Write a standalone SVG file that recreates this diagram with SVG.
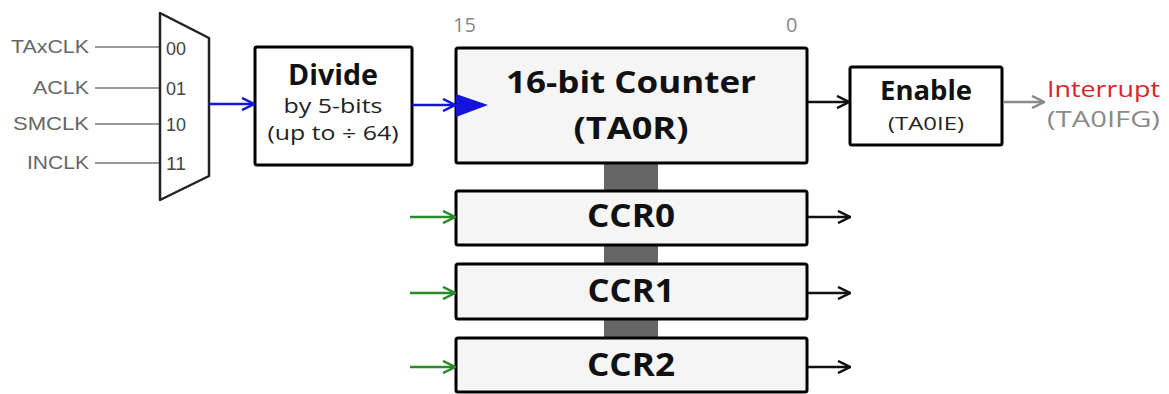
<svg xmlns="http://www.w3.org/2000/svg" width="1169" height="394" viewBox="0 0 1169 394">
  <style>
    .box { stroke: #000; stroke-width: 3; }
    .plain { fill: #fff; }
    .reg { fill: #f5f5f5; }
    .t-bold { font-family: "Open Sans", "DejaVu Sans", sans-serif; font-weight: bold; fill: #111; text-anchor: middle; }
    .t-reg { font-family: "Open Sans", "DejaVu Sans", sans-serif; fill: #222; text-anchor: middle; }
    .t-clk { font-family: "Liberation Sans", Arial, sans-serif; font-size: 18px; fill: #666; text-anchor: end; }
    .t-sel { font-family: "Liberation Sans", Arial, sans-serif; font-size: 18px; fill: #444; }
    .t-bit { font-family: "Open Sans", "DejaVu Sans", sans-serif; font-size: 20px; fill: #888; }
    .wire { fill: none; stroke-width: 2.5; }
  </style>
  <defs>
    <marker id="ah-blue" viewBox="0 0 14 14" refX="13" refY="7" markerWidth="14" markerHeight="14" markerUnits="userSpaceOnUse" orient="auto">
      <path d="M1,1 L13,7 L1,13" fill="none" stroke="#1414dc" stroke-width="2.5"/>
    </marker>
    <marker id="ah-black" viewBox="0 0 14 14" refX="13" refY="7" markerWidth="14" markerHeight="14" markerUnits="userSpaceOnUse" orient="auto">
      <path d="M1,1 L13,7 L1,13" fill="none" stroke="#111" stroke-width="2.5"/>
    </marker>
    <marker id="ah-green" viewBox="0 0 14 14" refX="13" refY="7" markerWidth="14" markerHeight="14" markerUnits="userSpaceOnUse" orient="auto">
      <path d="M1,1 L13,7 L1,13" fill="none" stroke="#2a8a2a" stroke-width="2.5"/>
    </marker>
    <marker id="ah-gray" viewBox="0 0 14 14" refX="13" refY="7" markerWidth="14" markerHeight="14" markerUnits="userSpaceOnUse" orient="auto">
      <path d="M1,1 L13,7 L1,13" fill="none" stroke="#8a8a8a" stroke-width="2.5"/>
    </marker>
  </defs>

  <rect width="1169" height="394" fill="#fff"/>

  <!-- shared data bus between counter and capture/compare registers -->
  <rect id="bus" x="604" y="160" width="54" height="180" fill="#666"/>

  <!-- clock source selector -->
  <g id="clock-mux">
    <g stroke="#777" stroke-width="1.5">
      <line x1="95" y1="47" x2="160" y2="47"/>
      <line x1="95" y1="88" x2="160" y2="88"/>
      <line x1="95" y1="124" x2="160" y2="124"/>
      <line x1="95" y1="163" x2="160" y2="163"/>
    </g>
    <text class="t-clk" x="89" y="53" textLength="78" lengthAdjust="spacingAndGlyphs">TAxCLK</text>
    <text class="t-clk" x="89" y="94" textLength="56" lengthAdjust="spacingAndGlyphs">ACLK</text>
    <text class="t-clk" x="89" y="130" textLength="76" lengthAdjust="spacingAndGlyphs">SMCLK</text>
    <text class="t-clk" x="89" y="169" textLength="62" lengthAdjust="spacingAndGlyphs">INCLK</text>
    <polygon points="160,13 209,38 209,176 160,200" fill="#fff" stroke="#222" stroke-width="2.5" stroke-linejoin="round"/>
    <text class="t-sel" x="166" y="55" textLength="20" lengthAdjust="spacingAndGlyphs">00</text>
    <text class="t-sel" x="166" y="95" textLength="20" lengthAdjust="spacingAndGlyphs">01</text>
    <text class="t-sel" x="166" y="131" textLength="20" lengthAdjust="spacingAndGlyphs">10</text>
    <text class="t-sel" x="166" y="170" textLength="20" lengthAdjust="spacingAndGlyphs">11</text>
  </g>

  <!-- input divider -->
  <g id="divider">
    <rect class="box plain" x="255" y="47" width="157" height="118" rx="2"/>
    <text class="t-bold" x="333" y="85" font-size="28" textLength="90" lengthAdjust="spacingAndGlyphs">Divide</text>
    <text class="t-reg" x="333" y="113" font-size="20" textLength="99" lengthAdjust="spacingAndGlyphs">by 5-bits</text>
    <text class="t-reg" x="333" y="140" font-size="20" textLength="131" lengthAdjust="spacingAndGlyphs">(up to ÷ 64)</text>
  </g>

  <!-- 16-bit timer counter -->
  <g id="counter">
    <text class="t-bit" x="453" y="32">15</text>
    <text class="t-bit" x="786" y="32">0</text>
    <rect class="box reg" x="456" y="48" width="351" height="115" rx="2"/>
    <polygon points="456,94 488,105 456,117" fill="#1414dc"/>
    <text class="t-bold" x="631" y="93" font-size="31" textLength="250" lengthAdjust="spacingAndGlyphs">16-bit Counter</text>
    <text class="t-bold" x="631" y="139" font-size="31" textLength="115" lengthAdjust="spacingAndGlyphs">(TA0R)</text>
  </g>

  <!-- interrupt enable gate -->
  <g id="enable">
    <rect class="box plain" x="850" y="67" width="152" height="78" rx="2"/>
    <text class="t-bold" x="926" y="100" font-size="26" textLength="92" lengthAdjust="spacingAndGlyphs">Enable</text>
    <text class="t-reg" x="926" y="130" font-size="19" textLength="76" lengthAdjust="spacingAndGlyphs">(TA0IE)</text>
  </g>

  <!-- interrupt flag output -->
  <g id="interrupt">
    <text x="1047" y="97" font-family="'Open Sans', 'DejaVu Sans', sans-serif" font-size="21" fill="#d9232a" textLength="113" lengthAdjust="spacingAndGlyphs">Interrupt</text>
    <text x="1047" y="127" font-family="'Open Sans', 'DejaVu Sans', sans-serif" font-size="21" fill="#8a8a8a" textLength="113" lengthAdjust="spacingAndGlyphs">(TA0IFG)</text>
  </g>

  <!-- capture/compare registers -->
  <g id="ccr0">
    <rect class="box reg" x="456" y="191" width="351" height="54" rx="2"/>
    <text class="t-bold" x="631" y="227" font-size="33" textLength="88" lengthAdjust="spacingAndGlyphs">CCR0</text>
  </g>
  <g id="ccr1">
    <rect class="box reg" x="456" y="264" width="351" height="55" rx="2"/>
    <text class="t-bold" x="631" y="302" font-size="33" textLength="87" lengthAdjust="spacingAndGlyphs">CCR1</text>
  </g>
  <g id="ccr2">
    <rect class="box reg" x="456" y="338" width="351" height="54" rx="2"/>
    <text class="t-bold" x="631" y="376" font-size="33" textLength="88" lengthAdjust="spacingAndGlyphs">CCR2</text>
  </g>

  <!-- connectors -->
  <g id="connectors" class="wire">
    <line x1="209" y1="104" x2="254" y2="104" stroke="#1414dc" marker-end="url(#ah-blue)"/>
    <line x1="412" y1="105" x2="455" y2="105" stroke="#1414dc" marker-end="url(#ah-blue)"/>
    <line x1="808" y1="102" x2="849" y2="102" stroke="#111" marker-end="url(#ah-black)"/>
    <line x1="1003" y1="102" x2="1044" y2="102" stroke="#8a8a8a" marker-end="url(#ah-gray)"/>
    <line x1="410" y1="217" x2="455" y2="217" stroke="#2a8a2a" marker-end="url(#ah-green)"/>
    <line x1="410" y1="293" x2="455" y2="293" stroke="#2a8a2a" marker-end="url(#ah-green)"/>
    <line x1="410" y1="367" x2="455" y2="367" stroke="#2a8a2a" marker-end="url(#ah-green)"/>
    <line x1="808" y1="217" x2="850" y2="217" stroke="#111" marker-end="url(#ah-black)"/>
    <line x1="808" y1="293" x2="850" y2="293" stroke="#111" marker-end="url(#ah-black)"/>
    <line x1="808" y1="367" x2="850" y2="367" stroke="#111" marker-end="url(#ah-black)"/>
  </g>
</svg>
